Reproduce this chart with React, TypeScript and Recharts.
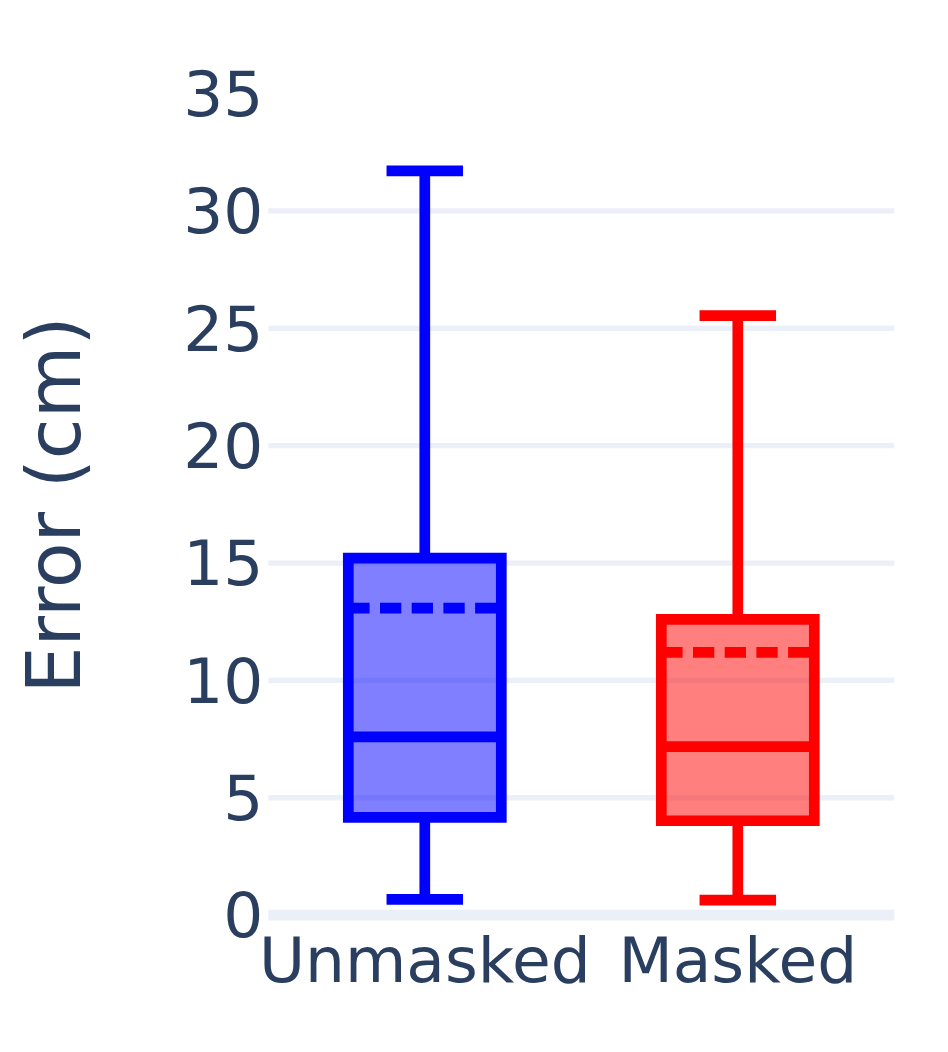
import { Bar, CartesianGrid, Cell, ComposedChart, ReferenceLine, XAxis, YAxis } from "recharts";

// box stats (cm)
const categories = ["Unmasked", "Masked"];
const lowerFence = [0.67, 0.64];
const q1 = [4.16, 4.02];
const median = [7.59, 7.18];
const mean = [13.08, 11.19];
const q3 = [15.21, 12.6];
const upperFence = [31.71, 25.54];

const yTicks = [0, 5, 10, 15, 20, 25, 30, 35];
const gridValues = [5, 10, 15, 20, 25, 30];

const colors = ["#0000ff", "#ff0000"];
const ink = "#2a3f5f";
const grid = "#ebf0f8";
const lw = 10.7;

const rows = categories.map((name, i) => ({
  name,
  range: [lowerFence[i], upperFence[i]],
  q1: q1[i],
  median: median[i],
  mean: mean[i],
  q3: q3[i],
}));

function BoxShape(props: any) {
  const { x, y, width, height, payload, fill } = props;
  const [lo, hi] = payload.range;
  const top = Math.min(y, y + height);
  const h = Math.abs(height);
  const k = h / (hi - lo);
  const py = (v: number) => top + (hi - v) * k;

  const cx = x + width / 2;
  const capHalf = width / 4;
  const yQ1 = py(payload.q1);
  const yQ3 = py(payload.q3);
  const yMed = py(payload.median);
  const yMean = py(payload.mean);

  const path =
    `M${x},${yQ1} H${x + width} V${yQ3} H${x} Z ` +
    `M${x},${yMed} H${x + width} ` +
    `M${cx},${yQ1} V${py(lo)} M${cx},${yQ3} V${py(hi)} ` +
    `M${cx - capHalf},${py(lo)} H${cx + capHalf} ` +
    `M${cx - capHalf},${py(hi)} H${cx + capHalf}`;

  return (
    <g>
      <path d={`M${x},${yQ1} H${x + width} V${yQ3} H${x} Z`} fill={fill} fillOpacity={0.5} stroke="none" />
      <path d={path} fill="none" stroke={fill} strokeWidth={lw} strokeLinejoin="miter" />
      <line
        x1={x}
        x2={x + width}
        y1={yMean}
        y2={yMean}
        stroke={fill}
        strokeWidth={lw}
        strokeDasharray="21.3 10.4"
      />
    </g>
  );
}

function AxisTitle() {
  return (
    <text
      x={80}
      y={505}
      transform="rotate(-90, 80, 505)"
      textAnchor="middle"
      fill={ink}
      fontSize={74.5}
      fontFamily="DejaVu Sans"
    >
      Error (cm)
    </text>
  );
}

export default function App() {
  return (
    <div style={{ position: "absolute", left: 0, top: 0, width: 948, height: 1052, background: "#fff" }}>
      <ComposedChart
        width={948}
        height={1052}
        data={rows}
        margin={{ top: 93.6, right: 53.7, bottom: 36.9, left: 0 }}
        style={{ fontFamily: "DejaVu Sans" }}
      >
        <CartesianGrid vertical={false} horizontalValues={gridValues} stroke={grid} strokeWidth={5.3} />
        <ReferenceLine y={0} stroke={grid} strokeWidth={lw} />
        <XAxis
          dataKey="name"
          type="category"
          height={100}
          axisLine={false}
          tickLine={false}
          tickSize={0}
          tickMargin={22}
          tick={{ fontSize: 63, fill: ink }}
        />
        <YAxis
          type="number"
          domain={[0, 35]}
          ticks={yTicks}
          interval={0}
          width={268.3}
          axisLine={false}
          tickLine={false}
          tickSize={0}
          tickMargin={5}
          tick={{ fontSize: 63, fill: ink }}
          label={<AxisTitle />}
        />
        <Bar dataKey="range" barSize={153} shape={<BoxShape />} isAnimationActive={false}>
          {rows.map((r, i) => (
            <Cell key={r.name} fill={colors[i]} />
          ))}
        </Bar>
      </ComposedChart>
    </div>
  );
}
